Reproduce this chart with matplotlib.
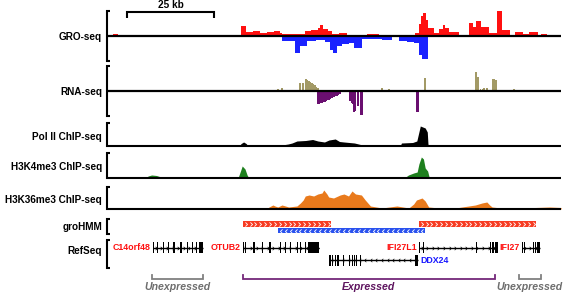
import matplotlib
matplotlib.use("Agg")
import matplotlib.pyplot as plt
from matplotlib.path import Path
import numpy as np

plt.rcParams["font.family"] = ["Liberation Sans", "DejaVu Sans"]

# ============================== DATA (kb along the locus) ==============================
SCALE_START, SCALE_LEN = 5.7, 25

# GRO-seq, plus strand (step profile)
gro_plus_x = [0, 1.7, 3.2, 15.2, 16.6, 26.1, 28.1, 38.5, 39.9, 42.0, 44.0, 46.0, 48.0, 49.5,
              50.2, 55.1, 56.8, 58.5, 60.5, 61.0, 62.0, 63.5, 64.6, 66.6, 68.9, 74.6, 78.0,
              88.4, 89.4, 90.0, 90.6, 91.6, 92.1, 93.8, 95.3, 96.3, 97.0, 98.1, 101.0, 103.3,
              103.9, 105.0, 106.0, 107.4, 109.6, 111.8, 113.3, 115.5, 117.0, 119.5, 121.0,
              123.7, 124.5, 126.3, 130.3]
gro_plus_y = [0, 2, 0, 1, 0, 1, 0, 10, 4, 5, 3, 4, 5, 3,
              2.5, 2, 5, 6, 8, 11, 7, 5, 2, 3, 1, 2, 0.5,
              3, 12, 20, 23, 16, 8, 3, 7, 11, 8, 4, 1, 0.5,
              13, 9, 15, 9, 3, 26, 6, 1, 4, 2, 4,
              1, 2, 0, 0]
# GRO-seq, minus strand
gro_minus_x = [0, 50.2, 53.9, 55.4, 57.4, 60.0, 62.5, 64.0, 64.9, 66.0, 67.5, 69.4, 70.9,
               73.2, 78.9, 81.8, 83.8, 86.0, 88.1, 89.5, 90.5, 92.1, 130.3]
gro_minus_y = [0, -5, -17, -10, -5, -4, -6, -14, -17, -10, -8, -7, -12,
               -3, -4, -1, -5, -6, -7, -19, -23, 0, 0]

# RNA-seq (per-position bars)
rna_plus_x = [49.1, 50.2, 55.4, 56.2, 57.1, 57.5, 58.0, 58.4, 58.8, 59.3, 59.7, 60.1, 60.5,
              78.9, 80.9, 91.2, 105.9, 106.5, 107.2, 107.8, 108.2, 109.0, 110.8, 111.2, 111.6,
              116.8, 124.2]
rna_plus_y = [2, 3, 8, 8, 12, 11, 10, 9, 8, 7, 6, 4, 3,
              3, 2, 13, 19, 14, 2, 2, 3, 3, 12, 12, 11,
              2, 1]
rna_minus_x = [60.5, 60.9, 61.3, 61.7, 62.1, 62.5, 62.9, 63.3, 63.7, 64.1, 64.5, 64.9, 65.3,
               65.7, 66.1, 66.5, 66.9, 69.7, 70.1, 70.5, 70.9, 71.3, 72.0, 72.9, 73.3, 89.0, 89.4]
rna_minus_y = [13, 13, 12, 12, 11, 11, 10, 9, 9, 8, 7, 6, 6,
               5, 5, 4, 3, 10, 12, 13, 21, 20, 15, 24, 24, 21, 21]

# ChIP-seq coverage
pol2_x = [0, 8.6, 8.9, 9.7, 10.0, 12.9, 13.2, 14.0, 14.3, 23.0, 23.3, 26.4, 26.7,
          37.9, 38.5, 39.2, 39.9, 40.5, 43.3, 43.6, 44.7, 45.0, 49.9, 50.2, 52.0, 53.1, 54.5,
          57.0, 59.0, 60.5, 62.4, 63.7, 65.5, 66.7, 68.0, 71.0, 73.3, 75.5, 76.0, 84.1, 84.5,
          87.7, 88.9, 89.5, 89.9, 90.6, 91.3, 91.9, 92.1, 92.3, 106.7, 107.0, 107.3,
          111.3, 111.6, 111.9, 124.0, 124.3, 126.3, 126.6, 130.3]
pol2_y = [0, 0, 1, 1, 0, 0, 1, 1, 0, 0, 0.7, 0.7, 0,
          0, 2.5, 4, 2.5, 0, 0, 1, 1, 0, 0, 1, 2, 3, 5,
          5.5, 6.5, 5, 4, 6, 7, 4.5, 4, 3, 1, 0.5, 0, 0, 3,
          3.5, 5, 14, 20, 19, 18, 14, 2, 0, 0, 0.8, 0,
          0, 0.8, 0, 0, 1, 1, 0, 0]
k4_x = [0, 11.2, 11.8, 12.8, 14.2, 15.5, 16.0, 32.1, 32.5, 32.9, 37.6, 38.2, 38.8, 39.6,
        40.2, 40.7, 47.6, 48.2, 49.2, 49.6, 85.3, 86.5, 88.0, 89.0, 89.5, 90.2, 90.8, 91.3,
        92.0, 92.5, 130.3]
k4_y = [0, 0, 2, 3, 2.5, 1, 0, 0, 1, 0, 0, 6, 12, 9,
        3, 0, 0, 1, 1, 0, 0, 3, 5, 6, 14, 21, 19, 10,
        7, 0, 0]
k36_x = [0, 3.5, 3.9, 6.9, 7.3, 9.3, 9.7, 12.1, 12.5, 15.6, 16.0, 18.5, 18.9, 26.5, 27.0,
         30.3, 30.8, 35.1, 35.5, 38.0, 38.4, 39.4, 39.9, 41.3, 41.8, 45.7, 46.5, 47.6, 48.2,
         49.0, 50.2, 51.2, 52.1, 54.5, 55.5, 56.3, 56.9, 58.0, 59.3, 60.5, 61.7, 62.2, 63.1,
         63.6, 65.0, 66.9, 68.0, 69.3, 70.3, 71.3, 73.0, 74.1, 75.6, 78.9, 83.2, 86.6, 88.0,
         88.8, 90.4, 91.3, 92.3, 95.2, 100.0, 105.7, 107.6, 109.0, 109.8, 110.5, 113.0,
         117.2, 122.9, 127.0, 130.3]
k36_y = [0, 0, 1, 1, 0, 0, 1, 1, 0, 0, 1, 1, 0, 0, 1.5,
         1.5, 0, 0, 1, 1, 0, 0, 1.5, 1.5, 0, 0, 2, 4, 3,
         2, 4, 3, 2, 3, 6, 9, 13, 14, 13, 15, 16, 19, 15,
         12, 11, 14, 15, 13, 18, 15, 14, 9, 3, 1, 3, 1, 5,
         9, 11, 8, 2, 1, 1, 4, 6, 7, 4, 2, 1,
         1, 1.5, 2, 1.5]

# groHMM transcripts
hmm_start = [39.0, 49.1, 89.5]
hmm_end = [64.3, 91.2, 123.1]
hmm_strand = ["+", "-", "+"]

# RefSeq genes
gene_names = ["C14orf48", "OTUB2", "DDX24", "IFI27L1", "IFI27"]
gene_start = [13.2, 38.9, 63.7, 89.5, 119.0]
gene_end = [27.5, 60.9, 89.2, 111.9, 124.3]
gene_strand = ["+", "+", "-", "+", "+"]
gene_row = [0, 0, 1, 0, 0]
gene_exons = [
    [13.2, 14.3, 16.1, 17.5, 19.0, 21.0, 23.0, 24.4, 25.5],
    [38.9, 39.5, 42.0, 44.4, 46.6, 49.6, 51.1, 52.5, 54.4, 55.4, 56.8, 57.8],
    [63.8, 64.6, 65.4, 66.1, 67.6, 69.3, 70.2, 70.9, 71.4, 72.6],
    [89.5, 90.7, 105.9, 109.9, 110.6, 111.3, 111.7],
    [119.0, 119.7, 122.2, 122.8, 123.5, 124.0],
]
gene_block = [(26.3, 1.2), (58.2, 2.7), (88.3, 0.9), None, None]   # large terminal exons

# annotation of expressed / unexpressed regions
region_labels = ["Unexpressed", "Expressed", "Unexpressed"]
region_start = [12.9, 39.0, 118.2]
region_end = [27.5, 111.3, 124.5]
region_line = ["#808080", "#74287a", "#808080"]
region_text = ["#6e6e6e", "#5e155f", "#6e6e6e"]

# ============================== STYLE / LAYOUT ==============================
W_PX, H_PX = 564, 294
LEFT_PX, RIGHT_PX = 107, 561
PX_PER_KB = 3.485
X_MAX = (RIGHT_PX - LEFT_PX) / PX_PER_KB
SERIF = 3 / (RIGHT_PX - LEFT_PX)
LABEL_X = 102
LABEL_FS = 7.2
LW = 1.5

# open chevrons used for strand direction
CHEV_R = Path([(-0.5, 1), (0.5, 0), (-0.5, -1)], [Path.MOVETO, Path.LINETO, Path.LINETO])
CHEV_L = Path([(0.5, 1), (-0.5, 0), (0.5, -1)], [Path.MOVETO, Path.LINETO, Path.LINETO])

fig = plt.figure(figsize=(W_PX / 100, H_PX / 100), dpi=100)


def add_axes(top, bottom):
    ax = fig.add_axes([LEFT_PX / W_PX, 1 - bottom / H_PX,
                       (RIGHT_PX - LEFT_PX) / W_PX, (bottom - top) / H_PX])
    ax.set_xlim(0, X_MAX)
    ax.axis("off")
    return ax


def bracket(ax, kind="full"):
    if kind == "full":
        xs, ys = [SERIF, 0, 0, SERIF], [1, 1, 0, 0]
    else:                       # chip: bracket runs into the baseline
        xs, ys = [SERIF, 0, 0, 1], [1, 1, 0, 0]
    ax.plot(xs, ys, transform=ax.transAxes, color="black", lw=LW,
            clip_on=False, solid_joinstyle="miter", solid_capstyle="butt")


def track_label(y, text):
    fig.text(LABEL_X / W_PX, 1 - y / H_PX, text, ha="right", va="center",
             fontsize=LABEL_FS, fontweight="bold")


# scale bar
ax = add_axes(0, 18)
ax.set_ylim(18, 0)
ax.plot([SCALE_START, SCALE_START, SCALE_START + SCALE_LEN, SCALE_START + SCALE_LEN],
        [17, 12, 12, 17], color="black", lw=LW, solid_joinstyle="miter")
ax.text(SCALE_START + SCALE_LEN / 2, 5, f"{SCALE_LEN} kb", ha="center", va="center",
        fontsize=LABEL_FS, fontweight="bold")

# GRO-seq
ax = add_axes(11, 61)
ax.set_ylim(-25, 25)
ax.fill_between(gro_plus_x, gro_plus_y, step="post", color="#ff1010", lw=0)
ax.fill_between(gro_minus_x, gro_minus_y, step="post", color="#1a22ff", lw=0)
ax.axhline(0, color="black", lw=1.6)
bracket(ax)
track_label(36.5, "GRO-seq")

# RNA-seq
ax = add_axes(66, 116)
ax.set_ylim(-25, 25)
ax.bar(rna_plus_x, rna_plus_y, width=0.42, color="#a39a66", lw=0)
ax.bar(rna_minus_x, [-v for v in rna_minus_y], width=0.42, color="#6a0f70", lw=0)
ax.axhline(0, color="black", lw=1.6)
bracket(ax)
track_label(91.5, "RNA-seq")

# ChIP-seq tracks
chip = [
    ("Pol II ChIP-seq", 123, 146, 23, pol2_x, pol2_y, "black", 137),
    ("H3K4me3 ChIP-seq", 153, 178, 25, k4_x, k4_y, "#1d7f1d", 167),
    ("H3K36me3 ChIP-seq", 187, 209, 22, k36_x, k36_y, "#e97a1c", 200),
]
for name, top, bot, ymax, xs, ys, col, ly in chip:
    ax = add_axes(top, bot)
    ax.set_ylim(0, ymax)
    ax.fill_between(xs, ys, color=col, lw=0)
    bracket(ax, "chip")
    track_label(ly, name)

# groHMM
ax = add_axes(219, 234)
ax.set_ylim(1.52, -0.72)
for s, e, st in zip(hmm_start, hmm_end, hmm_strand):
    row = 0 if st == "+" else 1
    col = "#f73b22" if st == "+" else "#2a52ee"
    ax.barh(row, e - s, left=s, height=0.82, color=col, lw=0)
    chev = np.arange(s + 0.8, e - 0.4, 1.4)
    ax.plot(chev, [row] * len(chev), ls="none", marker=CHEV_R if st == "+" else CHEV_L,
            ms=3.0, mfc="none", mec="white", mew=0.6)
bracket(ax)
track_label(227, "groHMM")

# RefSeq
ax = add_axes(240, 268)
ax.set_ylim(1.58, -0.58)
EXON_H = 0.85
for name, s, e, st, row, exons, blk in zip(gene_names, gene_start, gene_end, gene_strand,
                                            gene_row, gene_exons, gene_block):
    ax.plot([s, e], [row, row], color="black", lw=1.0, solid_capstyle="butt")
    arr = np.arange(s + 0.8, e - 0.3, 1.6)
    ax.plot(arr, [row] * len(arr), ls="none", marker=CHEV_R if st == "+" else CHEV_L,
            ms=2.4, mfc="none", mec="black", mew=0.5)
    ax.bar(exons, EXON_H, bottom=row - EXON_H / 2, width=0.38, align="edge",
           color="black", lw=0)
    if blk is not None:
        ax.bar(blk[0], EXON_H, bottom=row - EXON_H / 2, width=blk[1], align="edge",
               color="black", lw=0)
    if name == "DDX24":
        ax.annotate(name, (e, row), xytext=(1.5, 0), textcoords="offset points",
                    ha="left", va="center", fontsize=6.4, fontweight="bold", color="#1a1aff")
    else:
        ax.annotate(name, (s, row), xytext=(-1.5, 0), textcoords="offset points",
                    ha="right", va="center", fontsize=6.4, fontweight="bold", color="#ff1010")
bracket(ax)
track_label(251.5, "RefSeq")

# expressed / unexpressed brackets
ax = add_axes(270, 294)
ax.set_ylim(294, 270)
for lab, s, e, lc, tc in zip(region_labels, region_start, region_end, region_line, region_text):
    ax.plot([s, s, e, e], [275, 279, 279, 275], color=lc, lw=1.3, solid_joinstyle="miter")
    ax.text((s + e) / 2, 287.5, lab, ha="center", va="center", fontsize=7.6,
            fontweight="bold", fontstyle="italic", color=tc, clip_on=False)

fig.savefig("out.png", dpi=100)
